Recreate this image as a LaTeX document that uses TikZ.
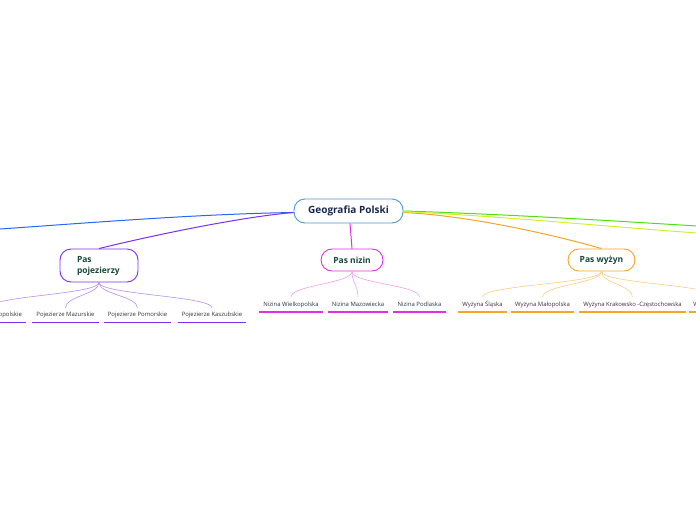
\documentclass[tikz,border=0pt]{standalone}
\usepackage{fontspec}
\setmainfont{Open Sans}
\definecolor{rootc}{HTML}{4A9AD4}
\definecolor{navy}{HTML}{1A2850}
\definecolor{dkgreen}{HTML}{1A4A3A}
\definecolor{leaftxt}{HTML}{333333}
\definecolor{bluec}{HTML}{2468F4}
\definecolor{purpc}{HTML}{7A30F2}
\definecolor{purpl}{HTML}{B88CF8}
\definecolor{magc}{HTML}{E030E6}
\definecolor{magl}{HTML}{F59AF2}
\definecolor{orac}{HTML}{F8A428}
\definecolor{oral}{HTML}{FDCB80}
\definecolor{greenc}{HTML}{50E010}
\definecolor{yelc}{HTML}{D4F028}
\begin{document}
\begin{tikzpicture}[x=1pt,y=-1pt,
  hub/.style={draw, rounded corners=11pt, fill=white, inner sep=0pt, line width=0.9pt},
  rootfont/.style={font=\bfseries\fontsize{10}{12}\selectfont, text=navy},
  subfont/.style={font=\bfseries\fontsize{8.5}{11}\selectfont, text=dkgreen},
  leaf/.style={font=\fontsize{5.95}{7}\selectfont, text=leaftxt, inner xsep=4pt, inner ysep=0pt, anchor=base},
  conn/.style={line width=1pt},
  lc/.style={line width=0.6pt},
  ul/.style={line width=1.4pt}
]
\useasboundingbox (0,0) rectangle (696,520);
\clip (0,0) rectangle (696,520);

% main nodes
\node[hub, draw=rootc, rootfont, minimum width=109pt, minimum height=24pt] (root) at (348.5,211) {Geografia Polski};
\node[hub, draw=purpc, subfont, minimum width=78pt, minimum height=33pt, text width=44pt, align=left] (poj) at (99,265.5) {Pas\\pojezierzy};
\node[hub, draw=magc, subfont, minimum width=62pt, minimum height=22pt] (niz) at (352,260) {Pas nizin};
\node[hub, draw=orac, subfont, minimum width=67pt, minimum height=22pt] (wyz) at (601.5,260) {Pas wyżyn};

% off-canvas ends
\coordinate (offL) at (0,229);
\coordinate (offG) at (697,226);
\coordinate (offY) at (697,233);

% main connectors
\draw[conn, bluec] ([yshift=-1.5pt]root.west) .. controls (200,214) and (100,222) .. (offL);
\draw[conn, purpc] ([yshift=-1.5pt]root.west) .. controls (240,217) and (150,236) .. (poj.north);
\draw[conn, magc] ([xshift=1.5pt]root.south) -- (niz.north);
\draw[conn, orac] ([yshift=-1.5pt]root.east) .. controls (460,215) and (540,231) .. (wyz.north);
\draw[conn, greenc] (root.east) .. controls (500,214) and (600,220) .. (offG);
\draw[conn, yelc] ([yshift=-0.7pt]root.east) .. controls (500,216) and (600,226) .. (offY);

% leaves: pojezierzy
\node[leaf] (p0) at (-12,316) {Pojezierze Wielkopolskie};
\node[leaf] (p1) at (65.5,316) {Pojezierze Mazurskie};
\node[leaf] (p2) at (137.5,316) {Pojezierze Pomorskie};
\node[leaf] (p3) at (212,316) {Pojezierze Kaszubskie};
% leaves: nizin
\node[leaf] (n1) at (291,306) {Nizina Wielkopolska};
\node[leaf] (n2) at (358,306) {Nizina Mazowiecka};
\node[leaf] (n3) at (419.5,306) {Nizina Podlaska};
% leaves: wyzyn
\node[leaf] (w1) at (482.5,306) {Wyżyna Śląska};
\node[leaf] (w2) at (542.5,306) {Wyżyna Małopolska};
\node[leaf] (w3) at (632.5,306) {Wyżyna Krakowsko -Częstochowska};
\node[leaf] (w4) at (717,306) {Wyżyna Lubelska};

% underlines
\foreach \n in {p0,p1,p2,p3} \draw[ul, purpc] ([yshift=-6.5pt]\n.base west) -- ([yshift=-6.5pt]\n.base east);
\foreach \n in {n1,n2,n3} \draw[ul, magc] ([yshift=-6pt]\n.base west) -- ([yshift=-6pt]\n.base east);
\foreach \n in {w1,w2,w3,w4} \draw[ul, orac] ([yshift=-6pt]\n.base west) -- ([yshift=-6pt]\n.base east);

% branch curves
\foreach \n in {p0,p1,p2,p3} \draw[lc, purpl] (poj.south) .. controls +(0,12) and +(0,-12) .. ([yshift=8pt]\n.base);
\foreach \n in {n1,n2,n3} \draw[lc, magl] (niz.south) .. controls +(0,12) and +(0,-12) .. ([yshift=9pt]\n.base);
\foreach \n in {w1,w2,w3,w4} \draw[lc, oral] (wyz.south) .. controls +(0,12) and +(0,-12) .. ([yshift=9pt]\n.base);
\end{tikzpicture}
\end{document}
